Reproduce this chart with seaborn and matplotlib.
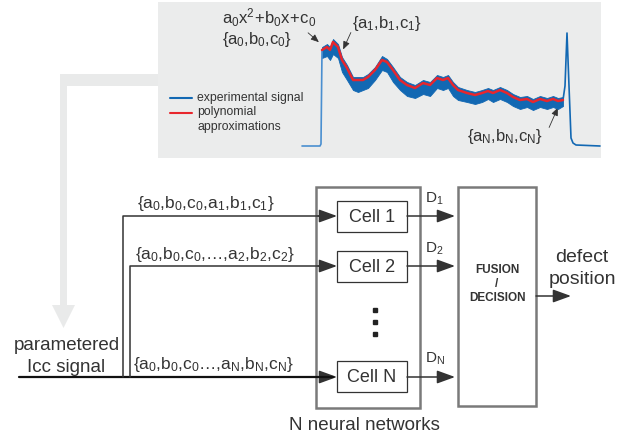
import numpy as np
import matplotlib
matplotlib.use("Agg")
import matplotlib.pyplot as plt
from matplotlib.patches import Rectangle, Polygon, FancyArrowPatch
import seaborn as sns

sns.set_theme(style="white")
plt.rcParams['font.family'] = ['Liberation Sans', 'DejaVu Sans']
plt.rcParams['mathtext.default'] = 'regular'

# signal (time in samples, amplitude in a.u.)
poly_t = [22, 27, 30, 33, 38, 42, 47, 53, 58, 63, 68, 75, 82, 87, 93, 100, 107, 115, 123, 130,
          137, 143, 148, 153, 158, 167, 175, 182, 188, 193, 200, 207, 213, 220, 227, 233, 240,
          247, 253, 258, 263]
poly_a = [96, 99, 96, 104, 99, 86, 78, 66, 66, 66, 69, 76, 86, 84, 76, 66, 61, 58, 63, 61,
          68, 66, 68, 61, 56, 53, 51, 53, 55, 53, 56, 53, 49, 46, 47, 44, 47, 45, 47, 45, 46]
sig_upper = [99, 102, 99, 107, 102, 89, 81, 69, 69, 69, 72, 79, 90, 87, 79, 69, 64, 61, 66, 64,
             71, 69, 71, 64, 59, 56, 54, 56, 58, 56, 59, 56, 52, 49, 50, 47, 50, 48, 50, 48, 49]
sig_lower = [88, 90, 86, 92, 88, 74, 66, 56, 54, 56, 58, 66, 76, 74, 64, 56, 50, 48, 52, 50,
             58, 56, 58, 50, 46, 44, 42, 44, 47, 44, 47, 44, 40, 37, 39, 36, 39, 37, 39, 37, 40]
rise_t = [2, 20, 21, 22]
rise_a = [0, 0, 2, 96]
end_t = [263, 265, 267, 269, 271, 273, 276, 300]
end_a = [46, 60, 113, 60, 8, 3, 1, 0]

# network diagram
row_y = [216, 266, 377]
row_inputs = [r'$\{a_0{,}b_0{,}c_0{,}a_1{,}b_1{,}c_1\}$',
              r'$\{a_0{,}b_0{,}c_0{,}\ldots{,}a_2{,}b_2{,}c_2\}$',
              r'$\{a_0{,}b_0{,}c_0\ldots{,}a_N{,}b_N{,}c_N\}$']
cell_names = ['Cell 1', 'Cell 2', 'Cell N']
outputs = [r'$D_1$', r'$D_2$', r'$D_N$']

blue = '#1268b3'
red = '#e8262d'
dark = '#333333'
grey_box = '#7a7a7a'
panel = '#ebecec'

fig = plt.figure(figsize=(6.27, 4.43), dpi=100)
ax = fig.add_axes([0, 0, 1, 1])
ax.set_xlim(0, 627)
ax.set_ylim(443, 0)
ax.axis('off')

# top panel and big grey arrow
ax.add_patch(Rectangle((158, 2), 443, 156, color=panel, lw=0, zorder=0))
ax.add_patch(Polygon([(158, 74), (158, 86), (67, 86), (67, 305), (75, 305), (63.5, 328),
                      (52, 305), (60, 305), (60, 74)], closed=True, color='#e9eaea', lw=0, zorder=0))

# legend
ax.plot([170, 192], [98, 98], color=blue, lw=1.5)
ax.plot([170, 192], [113, 113], color=red, lw=1.5)
ax.text(197, 98, 'experimental signal', fontsize=8.8, color=dark, va='center')
ax.text(197, 112, 'polynomial', fontsize=8.8, color=dark, va='center')
ax.text(197, 127, 'approximations', fontsize=8.8, color=dark, va='center')

# annotations on signal
ax.text(222, 18, r'$a_0x^2\!+\!b_0x\!+\!c_0$', fontsize=12, color=dark, va='center')
ax.text(222, 39, r'$\{a_0{,}b_0{,}c_0\}$', fontsize=12, color=dark, va='center')
ax.text(352, 23, r'$\{a_1{,}b_1{,}c_1\}$', fontsize=12, color=dark, va='center')
ax.text(467, 137, r'$\{a_N{,}b_N{,}c_N\}$', fontsize=12, color=dark, va='center')
for (x0, y0), (x1, y1) in [((306, 31), (321, 44)), ((352, 30), (342, 52)), ((548, 130), (559, 105))]:
    ax.add_patch(FancyArrowPatch((x0, y0), (x1, y1), arrowstyle='-|>,head_length=0.6,head_width=0.25',
                                 mutation_scale=8, color='#333333', lw=0.6, zorder=5))

# signal axes
sax = fig.add_axes([300 / 627, 1 - 150 / 443, 301 / 627, 122 / 443])
sax.set_xlim(0, 301)
sax.set_ylim(-4, 118)
sax.axis('off')
sax.patch.set_alpha(0)
sns.lineplot(x=rise_t, y=rise_a, ax=sax, color='#4a8fd0', lw=1.2, sort=False)
sax.fill_between(poly_t, sig_lower, sig_upper, color=blue, lw=0.6)
sns.lineplot(x=end_t, y=end_a, ax=sax, color=blue, lw=1.2, sort=False)
sns.lineplot(x=poly_t, y=poly_a, ax=sax, color=red, lw=1.8, sort=False)

# input lines
ax.plot([19, 333], [row_y[2], row_y[2]], color='#111111', lw=1.6)
ax.plot([123, 123, 325], [row_y[2], row_y[0], row_y[0]], color=dark, lw=1.1)
ax.plot([130, 130, 325], [row_y[2], row_y[1], row_y[1]], color=dark, lw=1.1)
label_x = [137, 135, 133]
label_y = [203, 255, 365]
for lx, ly, s in zip(label_x, label_y, row_inputs):
    ax.text(lx, ly, s, fontsize=12.5, color=dark, va='center')
ax.text(67, 345, 'parametered', fontsize=13.5, color=dark, ha='center', va='center')
ax.text(66, 367, 'Icc signal', fontsize=13.5, color=dark, ha='center', va='center')

# neural network block
ax.add_patch(Rectangle((316, 187), 104, 221, fill=False, ec=grey_box, lw=1.8))
ax.text(364, 425, 'N neural networks', fontsize=13.5, color=dark, ha='center', va='center')
cell_top = [201, 251, 361]
for y, top, name, d in zip(row_y, cell_top, cell_names, outputs):
    ax.add_patch(FancyArrowPatch((318, y), (337, y), arrowstyle='-|>,head_length=1.1,head_width=0.4',
                                 mutation_scale=10, color=dark, lw=1.1, shrinkA=0, shrinkB=0))
    ax.add_patch(Rectangle((337, top), 70, 31, fill=False, ec=dark, lw=0.9))
    ax.text(372, top + 16, name, fontsize=13, color=dark, ha='center', va='center')
    ax.add_patch(FancyArrowPatch((407, y), (455, y), arrowstyle='-|>,head_length=1.1,head_width=0.4',
                                 mutation_scale=10, color=dark, lw=1.1, shrinkA=0, shrinkB=0))
    ax.text(425, top - 2, d, fontsize=11, color=dark, va='center')
ax.plot([375, 375, 375], [310, 322, 334], ls='none', marker='s', ms=3.2, color='#222222')

# fusion block
ax.add_patch(Rectangle((458, 187), 78, 219, fill=False, ec=grey_box, lw=1.8))
ax.text(497, 270, 'FUSION', fontsize=8.5, fontweight='bold', color=dark, ha='center', va='center')
ax.text(497, 284, '/', fontsize=8.5, fontweight='bold', color=dark, ha='center', va='center')
ax.text(497, 298, 'DECISION', fontsize=8.5, fontweight='bold', color=dark, ha='center', va='center')
ax.add_patch(FancyArrowPatch((536, 296), (571, 296), arrowstyle='-|>,head_length=1.1,head_width=0.4',
                             mutation_scale=10, color=dark, lw=1.1, shrinkA=0, shrinkB=0))
ax.text(582, 258, 'defect', fontsize=14, color=dark, ha='center', va='center')
ax.text(582, 279, 'position', fontsize=14, color=dark, ha='center', va='center')

fig.savefig('out.png', dpi=100)
